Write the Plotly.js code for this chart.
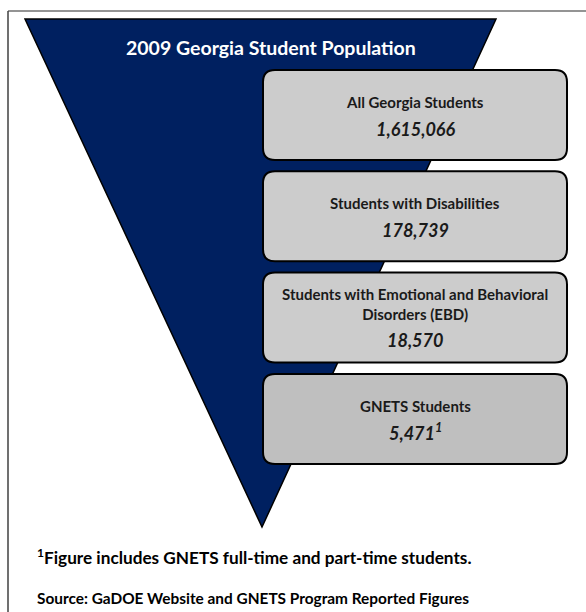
<!DOCTYPE html>
<html>
<head>
<meta charset="utf-8">
<script src="https://cdn.plot.ly/plotly-3.0.1.min.js"></script>
<style>html,body{margin:0;padding:0;background:#fff;}#chart{width:586px;height:612px;}</style>
</head>
<body>
<div id="chart"></div>
<script>
// ---- data ----
const chartTitle = '2009 Georgia Student Population';
const categories = ['All Georgia Students', 'Students with Disabilities', 'Students with Emotional and Behavioral<br>Disorders (EBD)', 'GNETS Students'];
const values = [1615066, 178739, 18570, 5471];
const valueNotes = ['', '', '', '1'];
const boxFills = ['#cccccc', '#cccccc', '#cccccc', '#bfbfbf'];
const footnote = '<sup>1</sup>Figure includes GNETS full-time and part-time students.';
const source = 'Source: GaDOE Website and GNETS Program Reported Figures';

// ---- layout geometry (drawing units = pixels) ----
const W = 586, H = 612;
const FONT = 'Lato, "Open Sans", sans-serif';
const boxLeft = 263, boxRight = 567, boxTop0 = 70, boxStep = 101.3, boxH = 90, r = 12;

function roundRect(x0, y0, x1, y1, rr) {
  return `M${x0 + rr},${y0} L${x1 - rr},${y0} Q${x1},${y0} ${x1},${y0 + rr} L${x1},${y1 - rr} Q${x1},${y1} ${x1 - rr},${y1} L${x0 + rr},${y1} Q${x0},${y1} ${x0},${y1 - rr} L${x0},${y0 + rr} Q${x0},${y0} ${x0 + rr},${y0} Z`;
}

const shapes = [
  // frame lines
  {type: 'line', x0: 8, y0: 11, x1: W, y1: 11, line: {color: '#707070', width: 1.5}},
  {type: 'line', x0: 8, y0: 11, x1: 8, y1: H, line: {color: '#404040', width: 1.5}},
  // inverted triangle (funnel)
  {type: 'path', path: 'M25,19 L496,19 L262,527 Z', fillcolor: '#002060', line: {color: '#000000', width: 1.5}}
];
const annotations = [
  {x: 271, y: 47, text: '<b>' + chartTitle + '</b>', showarrow: false, xanchor: 'center', yanchor: 'middle',
   font: {family: FONT, size: 19.5, color: '#ffffff'}}
];

categories.forEach((cat, i) => {
  const top = boxTop0 + i * boxStep;
  const bot = top + boxH;
  const cy = (top + bot) / 2;
  shapes.push({type: 'path', path: roundRect(boxLeft, top, boxRight, bot, r), fillcolor: boxFills[i],
               line: {color: '#000000', width: 2}});
  const twoLine = cat.indexOf('<br>') >= 0;
  const cx = (boxLeft + boxRight) / 2;
  annotations.push({x: cx, y: twoLine ? cy - 13.5 : cy - 13, text: '<b>' + cat + '</b>', showarrow: false,
    xanchor: 'center', yanchor: 'middle', font: {family: FONT, size: 15, color: '#1a1a1a'}});
  const num = values[i].toLocaleString('en-US') + (valueNotes[i] ? '<sup>' + valueNotes[i] + '</sup>' : '');
  annotations.push({x: cx, y: twoLine ? cy + 22 : cy + 13.5, text: '<b><i>' + num + '</i></b>', showarrow: false,
    xanchor: 'center', yanchor: 'middle', font: {family: FONT, size: 18, color: '#1a1a1a'}});
});

annotations.push({x: 35, y: 556, text: '<b>' + footnote + '</b>', showarrow: false, xanchor: 'left', yanchor: 'middle',
  font: {family: FONT, size: 17.2, color: '#000000'}});
annotations.push({x: 35, y: 598, text: '<b>' + source + '</b>', showarrow: false, xanchor: 'left', yanchor: 'middle',
  font: {family: FONT, size: 15.4, color: '#000000'}});

const layout = {
  width: W, height: H,
  margin: {l: 0, r: 0, t: 0, b: 0},
  paper_bgcolor: '#ffffff', plot_bgcolor: '#ffffff',
  xaxis: {range: [0, W], visible: false, fixedrange: true},
  yaxis: {range: [H, 0], visible: false, fixedrange: true},
  showlegend: false,
  shapes: shapes,
  annotations: annotations
};

Plotly.newPlot('chart', [{x: [], y: [], type: 'scatter', mode: 'markers', hoverinfo: 'skip'}], layout,
  {displayModeBar: false, staticPlot: true});
</script>
</body>
</html>
